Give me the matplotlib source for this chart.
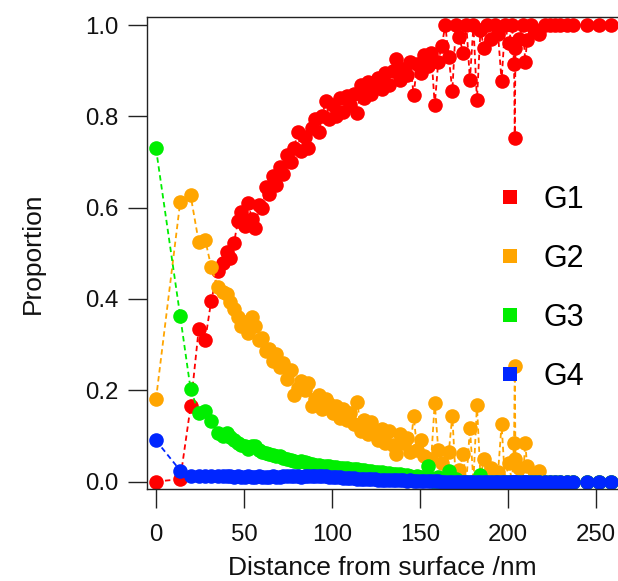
import matplotlib
matplotlib.use("Agg")
import matplotlib.pyplot as plt
from matplotlib.lines import Line2D

plt.rcParams['font.family'] = ['Liberation Sans', 'DejaVu Sans']

# Distance from surface (nm)
distance = [
    0, 13.8, 19.7, 24.3, 28.0, 31.4, 35.2, 38.0, 40.2, 42.0, 44.4,
    46.5, 48.5, 50.5, 52.5, 54.5, 56.5, 58.5, 60.5, 62.5, 64.5,
    66.5, 68.5, 70.5, 72.5, 74.5, 76.5, 78.5, 80.5, 82.5, 84.5,
    86.5, 88.5, 90.5, 92.5, 94.5, 96.5, 98.5, 100.5, 102.5, 104.5,
    106.5, 108.5, 110.5, 112.5, 114.5, 116.5, 118.5, 120.5, 122.5, 124.5,
    126.5, 128.5, 130.5, 132.5, 134.5, 136.5, 138.5, 140.5, 142.5, 144.5,
    146.5, 148.5, 150.5, 152.5, 154.5, 156.5, 158.5, 160.5, 162.5, 164.5,
    166.5, 168.5, 170.5, 172.5, 174.5, 176.5, 178.5, 180.5, 182.5, 184.5,
    186.5, 188.5, 190.5, 192.5, 194.5, 196.5, 198.5, 200.5, 202.5,
    203.6, 204.0, 204.4, 206.5, 208.5, 210.0, 211.0, 213.0, 215.5, 218.0,
    221.0, 224.0, 227.0, 230.0, 233.5, 237.0, 245.0, 252.0, 259.0,
]

g1 = [
    0.0, 0.005, 0.165, 0.334, 0.31, 0.396, 0.462, 0.478, 0.503, 0.49, 0.523,
    0.57, 0.59, 0.56, 0.61, 0.575, 0.555, 0.605, 0.60, 0.645, 0.63,
    0.67, 0.65, 0.69, 0.675, 0.715, 0.70, 0.73, 0.765, 0.725, 0.755,
    0.73, 0.775, 0.795, 0.765, 0.80, 0.835, 0.795, 0.825, 0.80, 0.84,
    0.81, 0.845, 0.825, 0.85, 0.808, 0.87, 0.84, 0.875, 0.85, 0.865,
    0.885, 0.86, 0.895, 0.87, 0.90, 0.927, 0.88, 0.905, 0.89, 0.92,
    0.847, 0.915, 0.895, 0.935, 0.91, 0.94, 0.825, 0.92, 0.955, 1.0,
    0.93, 0.856, 1.0, 0.975, 0.94, 1.0, 0.88, 1.0, 0.836, 0.99,
    0.95, 1.0, 0.97, 1.0, 0.98, 0.878, 1.0, 0.96, 1.0,
    0.915, 0.752, 0.95, 0.97, 1.0, 0.92, 0.968, 1.0, 0.99, 0.98,
    1.0, 1.0, 1.0, 1.0, 1.0, 1.0, 1.0, 1.0, 1.0,
]

g2 = [
    0.18, 0.613, 0.627, 0.525, 0.53, 0.47, 0.426, 0.415, 0.41, 0.393, 0.378,
    0.36, 0.34, 0.35, 0.325, 0.36, 0.34, 0.31, 0.315, 0.285, 0.29,
    0.265, 0.28, 0.25, 0.26, 0.225, 0.245, 0.19, 0.205, 0.22, 0.20,
    0.215, 0.165, 0.18, 0.19, 0.16, 0.18, 0.17, 0.15, 0.165, 0.14,
    0.16, 0.135, 0.15, 0.125, 0.175, 0.11, 0.135, 0.105, 0.13, 0.11,
    0.09, 0.115, 0.085, 0.11, 0.08, 0.06, 0.105, 0.085, 0.095, 0.065,
    0.144, 0.07, 0.09, 0.055, 0.05, 0.05, 0.173, 0.07, 0.04, 0.0,
    0.065, 0.144, 0.0, 0.025, 0.06, 0.0, 0.118, 0.0, 0.168, 0.01,
    0.05, 0.0, 0.03, 0.0, 0.02, 0.125, 0.0, 0.04, 0.0,
    0.085, 0.253, 0.05, 0.03, 0.0, 0.085, 0.034, 0.0, 0.01, 0.023,
    0.0, 0.0, 0.0, 0.0, 0.0, 0.0, 0.0, 0.0, 0.0,
]

g3 = [
    0.73, 0.362, 0.202, 0.151, 0.155, 0.132, 0.107, 0.10, 0.107, 0.097, 0.092,
    0.085, 0.08, 0.078, 0.072, 0.078, 0.078, 0.07, 0.065, 0.063, 0.06,
    0.058, 0.057, 0.056, 0.052, 0.05, 0.047, 0.045, 0.043, 0.045, 0.042,
    0.04, 0.038, 0.037, 0.036, 0.035, 0.034, 0.033, 0.032, 0.031, 0.03,
    0.03, 0.029, 0.028, 0.027, 0.027, 0.026, 0.025, 0.024, 0.022, 0.021,
    0.02, 0.02, 0.018, 0.018, 0.017, 0.016, 0.016, 0.015, 0.014, 0.013,
    0.01, 0.012, 0.01, 0.008, 0.034, 0.007, 0.0, 0.01, 0.005, 0.0,
    0.024, 0.0, 0.005, 0.0, 0.0, 0.0, 0.0, 0.0, 0.0, 0.015,
    0.0, 0.0, 0.0, 0.0, 0.0, 0.0, 0.0, 0.0, 0.0,
    0.0, 0.0, 0.0, 0.0, 0.0, 0.0, 0.0, 0.0, 0.0, 0.0,
    0.0, 0.0, 0.0, 0.0, 0.0, 0.0, 0.0, 0.0, 0.0,
]

g4 = [
    0.09, 0.024, 0.012, 0.013, 0.012, 0.012, 0.011, 0.012, 0.011, 0.011, 0.010,
    0.011, 0.010, 0.010, 0.011, 0.010, 0.010, 0.011, 0.010, 0.009, 0.010,
    0.011, 0.010, 0.010, 0.011, 0.012, 0.011, 0.012, 0.011, 0.010, 0.012,
    0.011, 0.013, 0.012, 0.011, 0.012, 0.011, 0.010, 0.010, 0.009, 0.009,
    0.008, 0.008, 0.007, 0.007, 0.006, 0.006, 0.005, 0.006, 0.005, 0.005,
    0.004, 0.004, 0.004, 0.004, 0.003, 0.003, 0.003, 0.003, 0.002, 0.003,
    0.002, 0.002, 0.002, 0.002, 0.001, 0.002, 0.001, 0.001, 0.0, 0.0,
    0.0, 0.0, 0.0, 0.0, 0.0, 0.0, 0.0, 0.0, 0.0, 0.0,
    0.0, 0.0, 0.0, 0.0, 0.0, 0.0, 0.0, 0.0, 0.0,
    0.0, 0.0, 0.0, 0.0, 0.0, 0.0, 0.0, 0.0, 0.0, 0.0,
    0.0, 0.0, 0.0, 0.0, 0.0, 0.0, 0.0, 0.0, 0.0,
]

series_names = ['G1', 'G2', 'G3', 'G4']
series_values = [g1, g2, g3, g4]
series_colors = ['#FF0000', '#FFA500', '#00EE00', '#0026FF']

x_ticks = [0, 50, 100, 150, 200, 250]
y_ticks = [0.0, 0.2, 0.4, 0.6, 0.8, 1.0]
y_tick_labels = ['0.0', '0.2', '0.4', '0.6', '0.8', '1.0']

fig = plt.figure(figsize=(6.18, 5.81), dpi=100)
ax = fig.add_axes([147 / 618, 1 - 489 / 581, 1 - 147 / 618, (489 - 17) / 581])

for vals, col in zip(series_values, series_colors):
    ax.plot(distance, vals, color=col, linestyle=(0, (3, 2)), linewidth=1.3,
            marker='o', markersize=10.5, markeredgewidth=0)

ax.set_xlim(-5.1, 262.7)
ax.set_ylim(-0.0164, 1.018)
ax.set_xticks(x_ticks)
ax.set_yticks(y_ticks)
ax.set_yticklabels(y_tick_labels)

for side in ('top', 'left', 'bottom'):
    ax.spines[side].set_linewidth(1.0)
    ax.spines[side].set_color('#222222')
ax.spines['right'].set_visible(False)

ax.tick_params(axis='both', direction='out', length=13.5, width=1.0,
               color='#222222', labelsize=17.3, labelcolor='#111111')
ax.tick_params(axis='x', pad=12)
ax.tick_params(axis='y', pad=7)

ax.set_xlabel('Distance from surface /nm', fontsize=19, color='#111111', labelpad=7)
ax.set_ylabel('Proportion', fontsize=19, color='#111111', labelpad=29)

handles = [Line2D([], [], linestyle='none', marker='s', markersize=10,
                  markeredgewidth=0, color=c) for c in series_colors]
ax.legend(handles, series_names, loc='upper left',
          bbox_to_anchor=(502 / 618, 1 - 185 / 581), bbox_transform=fig.transFigure,
          frameon=False, fontsize=22, handlelength=0.5, handletextpad=0.85,
          labelspacing=0.95, borderpad=0, borderaxespad=0)

fig.savefig('out.png', dpi=100)
